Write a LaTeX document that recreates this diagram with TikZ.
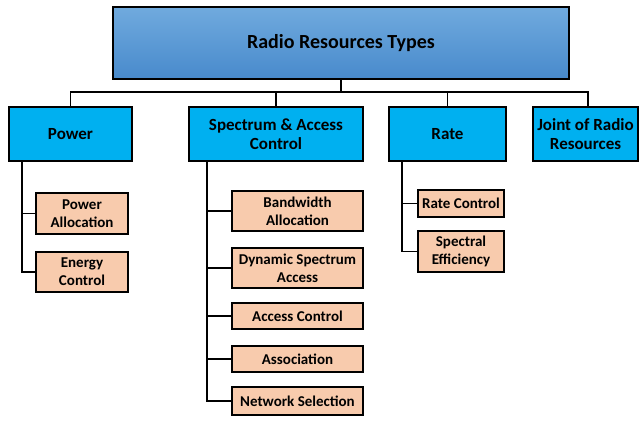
\documentclass[tikz,border=0pt]{standalone}
\usepackage{fontspec}
\setmainfont{Carlito}
\usepackage{xcolor}
\usetikzlibrary{positioning}

\definecolor{topblueA}{RGB}{112,170,222}
\definecolor{topblueB}{RGB}{72,138,204}
\definecolor{levelcyan}{RGB}{0,176,240}
\definecolor{subpeach}{RGB}{248,203,173}

\begin{document}
\begin{tikzpicture}[x=1pt, y=-1pt, node distance=5pt]

            \tikzset{
                rootbox/.style = {rectangle, minimum width=456pt, minimum height=72pt, outer sep=0pt, text centered, draw=black, line width=1.6pt, top color=topblueA, bottom color=topblueB, font=\fontsize{20}{22}\selectfont\bfseries},
                typebox/.style = {rectangle, minimum height=54pt, outer sep=0pt, align=center, draw=black, line width=1.6pt, fill=levelcyan, font=\fontsize{17}{19.5}\selectfont\bfseries},
                subbox/.style = {rectangle, align=center, inner sep=1pt, outer sep=0pt, draw=black, line width=1.6pt, fill=subpeach, font=\fontsize{15}{18}\selectfont\bfseries},
                link/.style = {line width=1.2pt}
            }

            \useasboundingbox (0,0) rectangle (639,420);

            \node (root) [rootbox] at (341,43) {Radio Resources Types};

            \node (power) [typebox, minimum width=123pt] at (70.5,134) {Power};
            \node (spec) [typebox, minimum width=174pt] at (276,134) {Spectrum \& Access\\Control};
            \node (rate) [typebox, minimum width=117pt] at (447.5,134) {Rate};
            \node (joint) [typebox, minimum width=105pt] at (585.5,134) {Joint of Radio\\Resources};

            % power branch
            \node (palloc) [subbox, minimum width=92pt, minimum height=41pt] at (82,213.5) {Power\\Allocation};
            \node (energy) [subbox, minimum width=92pt, minimum height=40pt, below=18pt of palloc] {Energy\\Control};

            % spectrum branch
            \node (bw) [subbox, minimum width=131pt, minimum height=40pt] at (297.5,211) {Bandwidth\\Allocation};
            \node (dsa) [subbox, minimum width=131pt, minimum height=40pt, below=17pt of bw] {Dynamic Spectrum\\Access};
            \node (acc) [subbox, minimum width=131pt, minimum height=26pt, below=15pt of dsa] {Access Control};
            \node (assoc) [subbox, minimum width=131pt, minimum height=26pt, below=17pt of acc] {Association};
            \node (netsel) [subbox, minimum width=131pt, minimum height=28pt, below=15pt of assoc] {Network Selection};

            % rate branch
            \node (ratectl) [subbox, minimum width=86pt, minimum height=27pt] at (461,203.5) {Rate Control};
            \node (speff) [subbox, minimum width=86pt, minimum height=41pt, below=14pt of ratectl] {Spectral\\Efficiency};

            \coordinate (bar) at (341,92);
            \draw [link] (root) -- (bar);
            \draw [link] (bar) -| (power.north);
            \draw [link] (bar) -| (spec.north);
            \draw [link] (bar) -| (rate.north);
            \draw [link] (bar) -| ([xshift=2.5pt]joint.north);

            \draw [link] ([xshift=13pt]power.south west) |- (palloc.west);
            \draw [link] ([xshift=13pt]power.south west) |- (energy.west);

            \draw [link] ([xshift=18pt]spec.south west) |- (bw.west);
            \draw [link] ([xshift=18pt]spec.south west) |- (dsa.west);
            \draw [link] ([xshift=18pt]spec.south west) |- (acc.west);
            \draw [link] ([xshift=18pt]spec.south west) |- (assoc.west);
            \draw [link] ([xshift=18pt]spec.south west) |- (netsel.west);

            \draw [link] ([xshift=13pt]rate.south west) |- (ratectl.west);
            \draw [link] ([xshift=13pt]rate.south west) |- (speff.west);
        \end{tikzpicture}
\end{document}
